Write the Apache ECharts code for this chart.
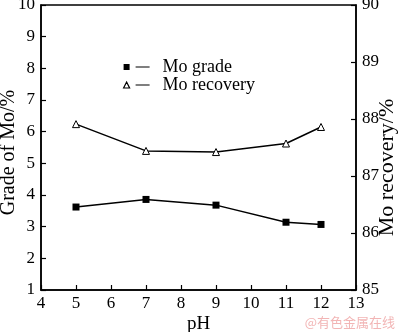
<!DOCTYPE html>
<html><head><meta charset="utf-8">
<script src="https://cdn.jsdelivr.net/npm/echarts@6/dist/echarts.min.js"></script>
<style>html,body{margin:0;padding:0;background:#fff}#c{width:400px;height:332px}</style>
</head><body><div id="c"></div>
<script>
const phValues = [5, 7, 9, 11, 12];
const moGrade = [3.62, 3.86, 3.68, 3.14, 3.07];
const moRecovery = [87.91, 87.44, 87.42, 87.57, 87.86];
const seriesNames = ['Mo grade', 'Mo recovery'];
const xName = 'pH', yLeftName = 'Grade of Mo/%', yRightName = 'Mo recovery/%';
const font = 'Liberation Serif';
const chart = echarts.init(document.getElementById('c'), null, {renderer: 'canvas'});
const sqIcon = 'path://M0,0 L6,0 L6,6 L0,6 Z M12,2.4 L26,2.4 L26,3.6 L12,3.6 Z';
const triIcon = 'path://M3,0 L6,6 L0,6 Z M12,3 L26,3';
chart.setOption({
  animation: false,
  grid: {left: 41, right: 44, top: 5, bottom: 42, show: true, borderColor: '#000', borderWidth: 1.5, outerBoundsMode: 'none', containLabel: false},
  legend: {
    left: 123, top: 58, padding: 0, orient: 'vertical', itemGap: 0, itemWidth: 26, itemHeight: 6,
    textStyle: {fontFamily: font, fontSize: 18, lineHeight: 17, color: '#000', padding: [0, 0, 0, 8]},
    data: [
      {name: seriesNames[0], icon: sqIcon, itemStyle: {color: '#000', borderWidth: 0}},
      {name: seriesNames[1], icon: triIcon, itemStyle: {color: '#fff', borderColor: '#000', borderWidth: 1.2}}
    ]
  },
  xAxis: {
    type: 'value', min: 4, max: 13, interval: 1, name: xName, nameLocation: 'middle', nameGap: 25,
    nameMoveOverlap: false,
    nameTextStyle: {fontFamily: font, fontSize: 19, color: '#000'},
    axisLine: {lineStyle: {color: '#000', width: 1.5}},
    axisTick: {inside: true, length: 5, lineStyle: {color: '#000', width: 1.2}},
    axisLabel: {fontFamily: font, fontSize: 17, color: '#000', margin: 5},
    splitLine: {show: false}
  },
  yAxis: [{
    type: 'value', min: 1, max: 10, interval: 1, name: yLeftName, nameLocation: 'middle', nameGap: 22,
    nameMoveOverlap: false,
    nameTextStyle: {fontFamily: font, fontSize: 20, color: '#000', padding: [0, 10, 0, 0]},
    axisLine: {show: true, lineStyle: {color: '#000', width: 1.5}},
    axisTick: {show: true, inside: true, length: 5, lineStyle: {color: '#000', width: 1.2}},
    axisLabel: {fontFamily: font, fontSize: 17, color: '#000', margin: 6},
    splitLine: {show: false}
  }, {
    type: 'value', min: 85, max: 90, interval: 1, position: 'right', name: yRightName, nameLocation: 'middle', nameGap: 20,
    nameRotate: 90, nameMoveOverlap: false,
    nameTextStyle: {fontFamily: font, fontSize: 22, color: '#000', padding: [0, 40, 0, 0]},
    axisLine: {show: true, lineStyle: {color: '#000', width: 1.5}},
    axisTick: {show: true, inside: true, length: 5, lineStyle: {color: '#000', width: 1.2}},
    axisLabel: {fontFamily: font, fontSize: 17, color: '#000', margin: 6},
    splitLine: {show: false}
  }],
  series: [{
    name: seriesNames[0], type: 'line', yAxisIndex: 0,
    data: phValues.map((x, i) => [x, moGrade[i]]),
    symbol: 'rect', symbolSize: 7, showAllSymbol: true,
    lineStyle: {color: '#000', width: 1.5}, itemStyle: {color: '#000'}
  }, {
    name: seriesNames[1], type: 'line', yAxisIndex: 1,
    data: phValues.map((x, i) => [x, moRecovery[i]]),
    symbol: 'triangle', symbolSize: 7, showAllSymbol: true,
    lineStyle: {color: '#000', width: 1.5}, itemStyle: {color: '#fff', borderColor: '#000', borderWidth: 1}
  }],
  graphic: [{
    type: 'text', right: 5, bottom: 3,
    style: {text: '@有色金属在线', font: '13px "Noto Sans CJK SC"', fill: '#f2b5b5'}
  }]
});
</script></body></html>
